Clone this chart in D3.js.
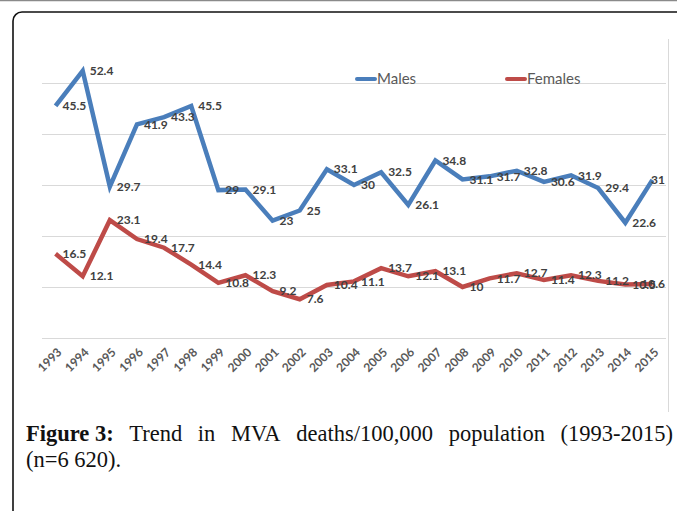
<!DOCTYPE html>
<html><head><meta charset="utf-8">
<script src="https://cdn.jsdelivr.net/npm/d3@7"></script>
<style>
html,body{margin:0;padding:0;background:#fff;}
svg{display:block;}
</style></head>
<body>
<svg id="c" width="677" height="511"></svg>
<script>
const years = ["1993","1994","1995","1996","1997","1998","1999","2000","2001","2002","2003","2004","2005","2006","2007","2008","2009","2010","2011","2012","2013","2014","2015"];
const males = [45.5,52.4,29.7,41.9,43.3,45.5,29,29.1,23,25,33.1,30,32.5,26.1,34.8,31.1,31.7,32.8,30.6,31.9,29.4,22.6,31];
const females = [16.5,12.1,23.1,19.4,17.7,14.4,10.8,12.3,9.2,7.6,10.4,11.1,13.7,12.1,13.1,10,11.7,12.7,11.4,12.3,11.2,10.5,10.6];
const yTicks = [0,10,20,30,40,50];
const seriesNames = ["Males","Females"];
const colors = ["#4a7ebb","#be4b48"];
const captionBold = "Figure 3:";
const captionLine1 = ["Trend","in","MVA","deaths/100,000","population","(1993-2015)"];
const captionLine2 = "(n=6 620).";

const svg = d3.select("#c");

// page frame
svg.append("line").attr("x1",0).attr("x2",677).attr("y1",0.5).attr("y2",0.5).attr("stroke","#8a8a8a").attr("stroke-width",1.5);
svg.append("rect").attr("x",13).attr("y",12).attr("width",720).attr("height",560).attr("rx",9)
  .attr("fill","none").attr("stroke","#111").attr("stroke-width",1.6);
// chart border (right edge visible)
svg.append("line").attr("x1",668.5).attr("x2",668.5).attr("y1",39).attr("y2",412).attr("stroke","#d9d9d9").attr("stroke-width",1);

const x = d3.scaleBand().domain(years).range([42,666]);
const y = d3.scaleLinear().domain([0,60]).range([338,32]);
const cx = d => x(d) + x.bandwidth()/2;

// gridlines
svg.append("g").selectAll("line").data(yTicks).join("line")
  .attr("x1",42).attr("x2",666).attr("y1",d=>Math.round(y(d))+0.5).attr("y2",d=>Math.round(y(d))+0.5)
  .attr("stroke","#d9d9d9").attr("stroke-width",1);

// x axis labels
const xAxis = d3.axisBottom(x).tickSize(0).tickPadding(0);
const gx = svg.append("g").attr("transform","translate(0,338)").call(xAxis);
gx.select(".domain").remove();
gx.selectAll("text")
  .attr("transform", "translate(4,12) rotate(-45)")
  .attr("text-anchor","end").attr("dy","0.35em").attr("y",0)
  .attr("font-family","Lato, 'Open Sans', sans-serif").attr("font-size","12px").attr("font-weight","700")
  .attr("fill","#595959");

// lines
const line = d3.line().x((d,i)=>cx(years[i])).y(d=>y(d));
[males,females].forEach((s,k)=>{
  svg.append("path").datum(s).attr("d",line).attr("fill","none")
    .attr("stroke",colors[k]).attr("stroke-width",4.5).attr("stroke-linejoin","miter").attr("stroke-linecap","butt");
});

// data labels (kept inside the chart area, like Excel does)
[males,females].forEach((s,k)=>{
  const t = svg.append("g").selectAll("text").data(s).join("text")
    .attr("x",(d,i)=>cx(years[i])+7).attr("y",d=>y(d)).attr("dy","0.35em")
    .attr("font-family","Lato, 'Open Sans', sans-serif").attr("font-size","12px").attr("font-weight","700")
    .attr("fill","#404040").text(d=>d);
  t.each(function(d,i){
    const w = this.getComputedTextLength();
    const x0 = cx(years[i])+7;
    if (x0 + w > 665) d3.select(this).attr("x", 665 - w);
  });
});

// legend
const lx = [357,507];
seriesNames.forEach((n,k)=>{
  svg.append("line").attr("x1",lx[k]).attr("x2",lx[k]+18).attr("y1",79).attr("y2",79)
    .attr("stroke",colors[k]).attr("stroke-width",4).attr("stroke-linecap","round");
  svg.append("text").attr("x",lx[k]+20).attr("y",79).attr("dy","0.35em")
    .attr("font-family","Lato, 'Open Sans', sans-serif").attr("font-size","15px").attr("fill","#595959").text(n);
});

// caption (justified first line)
const cap = svg.append("g").attr("font-family","'Liberation Serif', 'DejaVu Serif', serif").attr("font-size","22.5px").attr("fill","#111");
const b = cap.append("text").attr("x",26).attr("y",441).attr("font-weight","700").text(captionBold);
const widths = [];
const nodes = captionLine1.map(w=>{ const t = cap.append("text").attr("y",441).text(w); widths.push(t.node().getComputedTextLength()); return t; });
const bw = b.node().getComputedTextLength();
const total = bw + d3.sum(widths);
const gap = (673 - 26 - total) / captionLine1.length;
let cur = 26 + bw + gap;
nodes.forEach((t,i)=>{ t.attr("x",cur); cur += widths[i] + gap; });
cap.append("text").attr("x",26).attr("y",467).text(captionLine2);
</script>
</body></html>
